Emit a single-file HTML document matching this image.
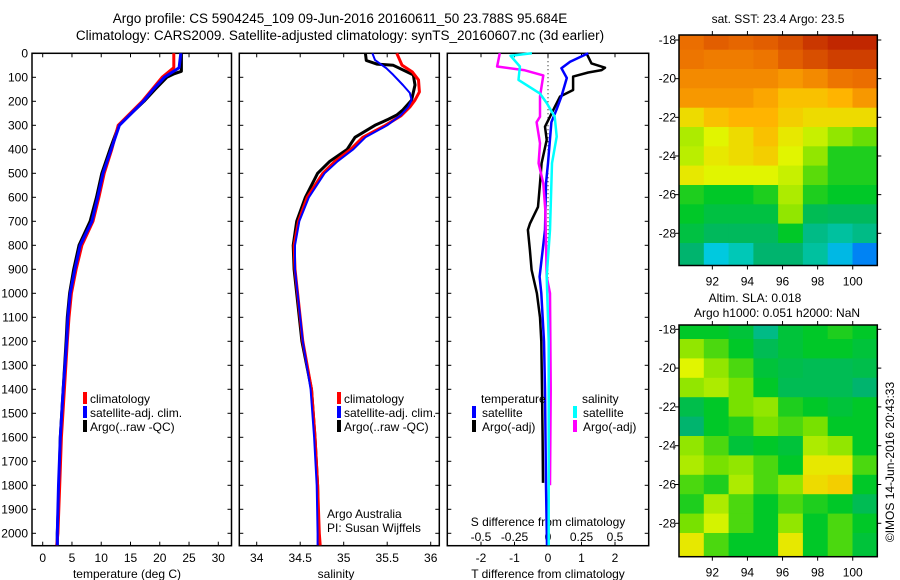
<!DOCTYPE html>
<html><head><meta charset="utf-8"><style>
html,body{margin:0;padding:0;background:#fff;}
svg{display:block;font-family:"Liberation Sans",sans-serif;}
</style></head><body>
<svg id="chart" width="900" height="580" viewBox="0 0 900 580" xmlns="http://www.w3.org/2000/svg">
<text x="340" y="23" font-size="13.5" text-anchor="middle">Argo profile: CS 5904245_109 09-Jun-2016 20160611_50 23.788S 95.684E</text>
<text x="340" y="40" font-size="13.5" text-anchor="middle">Climatology: CARS2009. Satellite-adjusted climatology: synTS_20160607.nc (3d earlier)</text>
<text x="778" y="23" font-size="12" text-anchor="middle">sat. SST: 23.4 Argo: 23.5</text>
<text x="755" y="302" font-size="12" text-anchor="middle">Altim. SLA: 0.018</text>
<text x="777" y="317" font-size="12" text-anchor="middle">Argo h1000: 0.051 h2000: NaN</text>
<text x="0" y="0" font-size="12" text-anchor="middle" transform="translate(894,462) rotate(-90)">©IMOS 14-Jun-2016 20:43:33</text>
<g id="g"></g>
</svg>
<script>
// ---- data ----
const depthTicks = [0,100,200,300,400,500,600,700,800,900,1000,1100,1200,1300,1400,1500,1600,1700,1800,1900,2000];
const tempTicks = [0,5,10,15,20,25,30];
const salTicks = [34,34.5,35,35.5,36];
const salTickLabels = ["34","34.5","35","35.5","36"];
const tdiffTicks = [-2,-1,0,1,2];
const sdiffTicks = [-0.5,-0.25,0,0.25,0.5];
const sdiffTickLabels = ["-0.5","-0.25","0","0.25","0.5"];

const tArgoDepth = [0,75,85,100,150,200,300,400,500,600,700,800,900,1000,1100,1200,1400,1600,1800,2000,2050];
const tArgo = [23.7,23.7,22.5,21.2,19.2,17.3,13.0,11.5,10.1,9.2,8.1,6.2,5.3,4.6,4.2,4.0,3.5,3.0,2.8,2.5,2.5];
const tClimDepth = [0,60,100,150,200,300,400,500,600,700,800,900,1000,1100,1200,1400,1600,1800,2000,2050];
const tClim = [22.4,22.4,20.4,18.7,17.0,12.9,11.8,10.5,9.6,8.6,6.7,5.7,4.9,4.5,4.2,3.7,3.2,2.9,2.6,2.4];
const tSatDepth = [0,60,100,150,200,300,400,500,600,700,800,900,1000,1100,1200,1400,1600,1800,2000,2050];
const tSat = [23.6,23.3,20.8,18.9,17.2,13.1,11.7,10.3,9.4,8.4,6.4,5.5,4.7,4.3,4.1,3.5,3.0,2.7,2.5,2.5];

const sArgoDepth = [0,30,45,50,90,132,195,236,257,277,300,350,400,450,500,600,700,800,900,1000,1200,1400,1600,1800,2000,2050];
const sArgo = [35.25,35.26,35.38,35.57,35.8,35.82,35.78,35.68,35.61,35.5,35.36,35.13,35.04,34.84,34.7,34.56,34.46,34.42,34.43,34.46,34.52,34.63,34.67,34.7,34.71,34.72];
const sSatDepth = [0,28,62,90,132,165,195,224,260,300,350,400,450,500,600,700,800,900,1000,1200,1400,1600,1800,2000,2050];
const sSat = [35.33,35.36,35.49,35.57,35.68,35.76,35.78,35.74,35.65,35.5,35.25,35.11,34.93,34.78,34.6,34.49,34.44,34.44,34.47,34.53,34.62,34.66,34.69,34.7,34.7];
const sClimDepth = [0,49,78,111,161,195,224,260,300,350,400,450,500,600,700,800,900,1000,1200,1400,1600,1800,2000,2050];
const sClim = [35.61,35.67,35.79,35.86,35.87,35.82,35.76,35.66,35.48,35.22,35.08,34.9,34.76,34.58,34.48,34.43,34.44,34.47,34.53,34.63,34.67,34.7,34.72,34.73];

const dTArgoDepth = [0,42,60,70,80,97,153,180,224,264,306,361,458,542,640,710,736,820,903,1000,1100,1200,1400,1600,1790];
const dTArgo = [1.15,1.3,1.7,1.6,1.2,0.75,0.75,0.36,0.2,0.06,-0.09,-0.04,-0.19,-0.24,-0.3,-0.54,-0.6,-0.54,-0.49,-0.33,-0.24,-0.2,-0.18,-0.16,-0.15];
const dTSatDepth = [0,35,62,103,180,233,287,458,542,736,931,1000,1200,1400,1800,2050];
const dTSat = [1.2,0.66,0.4,0.56,0.4,0.26,0.1,0.0,-0.06,-0.09,-0.25,-0.2,-0.12,-0.09,-0.06,-0.03];
const dSSatDepth = [0,10,55,111,168,207,264,347,458,736,931,1200,1600,2050];
const dSSat = [-0.12,-0.28,-0.21,-0.22,-0.06,-0.01,0.05,0.065,0.03,0.015,-0.01,0.005,0.005,0.005];
const dSArgoDepth = [0,55,70,92,180,264,287,375,458,542,653,931,1000,1400,1800];
const dSArgo = [-0.36,-0.38,-0.18,-0.035,-0.06,-0.06,-0.085,-0.06,-0.07,-0.035,-0.02,-0.01,0.015,0.02,0.015];

const mapLonTicks = [92,94,96,98,100];
const mapLatTicks = [-18,-20,-22,-24,-26,-28];
const gridLat = [-18,-19,-20,-21,-22,-23,-24,-25,-26,-27,-28,-29];
const sstGrid = [
[0.86,0.88,0.87,0.88,0.9,0.93,0.95,0.95],
[0.85,0.84,0.84,0.85,0.88,0.9,0.92,0.92],
[0.82,0.82,0.82,0.82,0.8,0.82,0.85,0.86],
[0.8,0.8,0.8,0.78,0.74,0.74,0.76,0.8],
[0.7,0.74,0.76,0.76,0.72,0.7,0.7,0.7],
[0.62,0.66,0.7,0.74,0.68,0.64,0.6,0.57],
[0.63,0.68,0.7,0.72,0.66,0.6,0.52,0.52],
[0.68,0.66,0.66,0.66,0.64,0.56,0.52,0.52],
[0.52,0.5,0.5,0.52,0.62,0.52,0.5,0.5],
[0.5,0.47,0.47,0.47,0.6,0.45,0.44,0.44],
[0.47,0.44,0.44,0.44,0.5,0.4,0.38,0.4],
[0.42,0.32,0.36,0.42,0.42,0.38,0.3,0.24]];
const slaGrid = [
[0.5,0.5,0.48,0.4,0.48,0.5,0.52,0.5],
[0.6,0.55,0.5,0.45,0.48,0.5,0.5,0.48],
[0.66,0.6,0.55,0.48,0.46,0.45,0.45,0.46],
[0.6,0.62,0.58,0.5,0.45,0.45,0.45,0.42],
[0.46,0.5,0.58,0.6,0.52,0.5,0.48,0.5],
[0.42,0.5,0.52,0.58,0.55,0.58,0.5,0.5],
[0.6,0.55,0.48,0.5,0.48,0.62,0.6,0.5],
[0.62,0.58,0.6,0.55,0.5,0.68,0.68,0.55],
[0.55,0.52,0.62,0.55,0.6,0.7,0.72,0.5],
[0.52,0.62,0.55,0.5,0.55,0.52,0.5,0.45],
[0.58,0.65,0.55,0.5,0.6,0.5,0.55,0.5],
[0.68,0.55,0.5,0.5,0.68,0.5,0.55,0.48]];

// ---- helpers ----
const NS="http://www.w3.org/2000/svg";
const G=document.getElementById('g');
function el(tag,attrs,parent){const e=document.createElementNS(NS,tag);for(const k in attrs)e.setAttribute(k,attrs[k]);(parent||G).appendChild(e);return e;}
const TOP=53.3, BOT=545.7;
const yD=d=>53.3+d*0.24;
const xT=t=>42.7+t*5.853;
const xS=s=>256.7+(s-34)*87;
const xDT=t=>548+t*33.5;
const xDS=s=>548+s*134;

function frame(x0,x1,name){
  const r=el('rect',{x:x0,y:TOP,width:x1-x0,height:BOT-TOP,fill:'none',stroke:'#000','stroke-width':1.5});
  
  
  depthTicks.forEach(d=>{el('line',{x1:x0,x2:x0+4,y1:yD(d),y2:yD(d),stroke:'#000'});el('line',{x1:x1,x2:x1-4,y1:yD(d),y2:yD(d),stroke:'#000'});});
}
function series(depths,vals,xf,color,w,name){
  const pts=depths.map((d,i)=>xf(vals[i]).toFixed(1)+','+yD(d).toFixed(1)).join(' ');
  const p=el('polyline',{points:pts,fill:'none',stroke:color,'stroke-width':w,'stroke-linejoin':'round'});
  
  
}
function txt(x,y,s,anchor,size,name){
  const t=el('text',{x:x,y:y,'font-size':size||12,'text-anchor':anchor||'start'});t.textContent=s;
  
  
  return t;
}
function legendBar(x,y,color,name){
  const r=el('rect',{x:x,y:y,width:4,height:12,fill:color});
  
  
}

// ---- panel 1 temperature ----
frame(32,231.5,'temperature-panel');
depthTicks.forEach(d=>txt(28,yD(d)+4,String(d),'end',12,'depth-tick-label'));
tempTicks.forEach(t=>{el('line',{x1:xT(t),x2:xT(t),y1:TOP,y2:TOP+4,stroke:'#000'});el('line',{x1:xT(t),x2:xT(t),y1:BOT,y2:BOT-4,stroke:'#000'});txt(xT(t),562,String(t),'middle',12,'temp-tick-label');});
txt(127,578,'temperature (deg C)','middle',12,'x-axis-title-temperature');
series(tArgoDepth,tArgo,xT,'#000',3,'temp-argo-line');
series(tClimDepth,tClim,xT,'#f00',3,'temp-climatology-line');
series(tSatDepth,tSat,xT,'#00f',3,'temp-satellite-line');
legendBar(83,392,'#f00','legend-climatology-swatch');txt(90,403,'climatology','start',12,'legend-climatology');
legendBar(83,406,'#00f','legend-satellite-swatch');txt(90,417,'satellite-adj. clim.','start',12,'legend-satellite-adj');
legendBar(83,420,'#000','legend-argo-swatch');txt(90,431,'Argo(..raw -QC)','start',12,'legend-argo');

// ---- panel 2 salinity ----
frame(239.3,439.3,'salinity-panel');
salTicks.forEach((s,i)=>{el('line',{x1:xS(s),x2:xS(s),y1:TOP,y2:TOP+4,stroke:'#000'});el('line',{x1:xS(s),x2:xS(s),y1:BOT,y2:BOT-4,stroke:'#000'});txt(xS(s),562,salTickLabels[i],'middle',12,'sal-tick-label');});
txt(336,578,'salinity','middle',12,'x-axis-title-salinity');
series(sArgoDepth,sArgo,xS,'#000',3,'sal-argo-line');
series(sClimDepth,sClim,xS,'#f00',3,'sal-climatology-line');
series(sSatDepth,sSat,xS,'#00f',2,'sal-satellite-line');
legendBar(337,392,'#f00','legend2-climatology-swatch');txt(344,403,'climatology','start',12,'legend2-climatology');
legendBar(337,406,'#00f','legend2-satellite-swatch');txt(344,417,'satellite-adj. clim.','start',12,'legend2-satellite-adj');
legendBar(337,420,'#000','legend2-argo-swatch');txt(344,431,'Argo(..raw -QC)','start',12,'legend2-argo');
txt(327,518,'Argo Australia','start',12,'credit-argo-australia');
txt(327,532,'PI: Susan Wijffels','start',12,'credit-pi');

// ---- panel 3 differences ----
frame(447.3,648.7,'difference-panel');
el('line',{x1:548,x2:548,y1:TOP,y2:BOT,stroke:'#000','stroke-dasharray':'1,3'});
tdiffTicks.forEach(t=>{el('line',{x1:xDT(t),x2:xDT(t),y1:TOP,y2:TOP+4,stroke:'#000'});el('line',{x1:xDT(t),x2:xDT(t),y1:BOT,y2:BOT-4,stroke:'#000'});txt(xDT(t),562,String(t),'middle',12,'tdiff-tick-label');});
sdiffTicks.forEach((s,i)=>txt(xDS(s),541,sdiffTickLabels[i],'middle',12,'sdiff-tick-label'));
txt(548,526,'S difference from climatology','middle',12,'sdiff-axis-title');
txt(548,578,'T difference from climatology','middle',12,'tdiff-axis-title');
series(dTArgoDepth,dTArgo,xDT,'#000',2.5,'tdiff-argo-line');
series(dTSatDepth,dTSat,xDT,'#00f',2.5,'tdiff-satellite-line');
series(dSArgoDepth,dSArgo,xDS,'#f0f',2.5,'sdiff-argo-line');
series(dSSatDepth,dSSat,xDS,'#0ff',2.5,'sdiff-satellite-line');
txt(481,403,'temperature','start',12,'legend3-temperature-header');
legendBar(472,406,'#00f','legend3-t-satellite-swatch');txt(482,417,'satellite','start',12,'legend3-t-satellite');
legendBar(472,420,'#000','legend3-t-argo-swatch');txt(482,431,'Argo(-adj)','start',12,'legend3-t-argo');
txt(582,403,'salinity','start',12,'legend3-salinity-header');
legendBar(573,406,'#0ff','legend3-s-satellite-swatch');txt(583,417,'satellite','start',12,'legend3-s-satellite');
legendBar(573,420,'#f0f','legend3-s-argo-swatch');txt(583,431,'Argo(-adj)','start',12,'legend3-s-argo');

// ---- maps ----
const stops=[[0,[0,0,190]],[0.2,[0,96,255]],[0.33,[0,210,220]],[0.42,[0,180,110]],[0.5,[0,200,40]],[0.58,[120,225,0]],[0.66,[225,245,0]],[0.76,[255,180,0]],[0.86,[235,110,0]],[1,[170,0,0]]];
function cmap(v){for(let i=1;i<stops.length;i++){if(v<=stops[i][0]){const a=stops[i-1],b=stops[i],f=(v-a[0])/(b[0]-a[0]);const c=a[1].map((x,k)=>Math.round(x+(b[1][k]-x)*f));return 'rgb('+c.join(',')+')';}}return 'rgb(170,0,0)';}
function map(x0,x1,y0,y1,lat18y,lat28y,grid,name){
  const lonPx=(x1-x0)/(101.4-90.1);
  const xL=lon=>x0+(lon-90.1)*lonPx;
  const yL=lat=>lat18y+(-18-lat)*(lat28y-lat18y)/10;
  const g=el('g',{});
  
  
  const nc=grid[0].length, cw=(x1-x0)/nc;
  grid.forEach((row,r)=>{
    const lat=gridLat[r];
    const ya=Math.max(y0,yL(lat+0.5)), yb=Math.min(y1,yL(lat-0.5));
    const yb2=(r===grid.length-1)?y1:yb;
    row.forEach((v,c)=>{
      const cell=el('rect',{x:(x0+c*cw).toFixed(1),y:ya.toFixed(1),width:(cw+0.5).toFixed(1),height:(yb2-ya+0.5).toFixed(1),fill:cmap(v)},g);
      
      
    });
  });
  el('rect',{x:x0,y:y0,width:x1-x0,height:y1-y0,fill:'none',stroke:'#000','stroke-width':1.5});
  mapLatTicks.forEach(l=>{const y=yL(l);el('line',{x1:x0-4,x2:x0,y1:y,y2:y,stroke:'#000'});el('line',{x1:x1,x2:x1+4,y1:y,y2:y,stroke:'#000'});txt(x0-3,y+4,String(l),'end',12,'map-lat-label');});
  mapLonTicks.forEach(l=>{const x=xL(l);el('line',{x1:x,x2:x,y1:y0-4,y2:y0,stroke:'#000'});el('line',{x1:x,x2:x,y1:y1,y2:y1+4,stroke:'#000'});txt(x,y1+20,String(l),'middle',12,'map-lon-label');});
}
map(679,877.3,35,265.5,40,233.3,sstGrid,'sst-map');
map(679,877.3,325,556.7,329.3,523.3,slaGrid,'sla-map');
</script>
</body></html>
